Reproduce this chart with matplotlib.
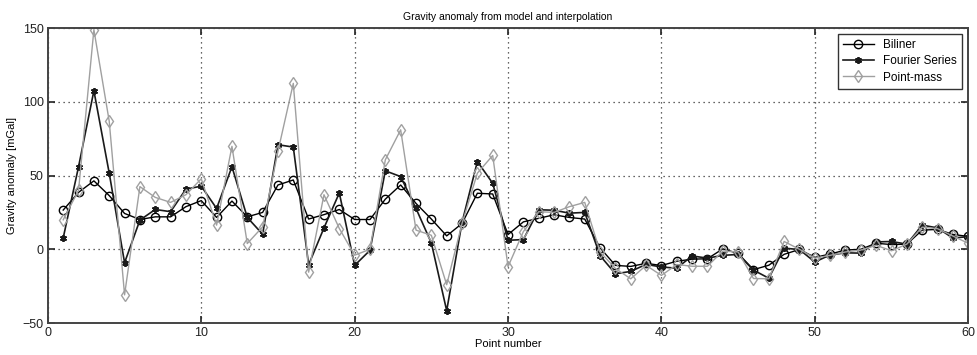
import matplotlib.pyplot as plt
import numpy as np

plt.rcParams['font.family'] = ['Liberation Sans', 'DejaVu Sans']

points = np.arange(1, 61)

biliner = [26.6, 38.6, 46.4, 36.4, 24.3, 20.2, 22, 22, 28.9, 33,
           21.6, 32.7, 22, 25, 43.6, 47, 20.5, 23.5, 27, 20.2,
           20.2, 34, 43.6, 31.1, 20.5, 9.1, 17.5, 38, 37.5, 10,
           18.6, 21, 23.4, 21.6, 20.5, 1, -10.9, -11.6, -9.5, -11,
           -8.1, -6.7, -6.4, 0.3, -2.8, -13.8, -10.8, -3.4, -0.1, -5.5,
           -3.2, -0.5, 0, 4.1, 3.2, 3.5, 13, 13.5, 10.1, 8.7]

fourier = [7.7, 56, 107.5, 51.6, -9.1, 19.8, 27, 25.5, 40.8, 42.8,
           27.7, 56, 21.6, 10.2, 70.9, 69.3, -10.5, 14.5, 38.2, -10.9,
           -0.7, 53.2, 49.3, 27.7, 4.3, -41.6, 18.2, 59.5, 44.8, 6.1,
           6.6, 26.8, 26.5, 24.5, 25, -4.3, -16.6, -15, -10.2, -12,
           -12.8, -4.5, -6, -4.1, -3.5, -14.1, -19.6, 0.8, -0.2, -8.6,
           -3.8, -2.4, -2.6, 5, 5.3, 3.5, 16.4, 14.5, 7.6, 8.6]

point_mass = [20, 40, 148.9, 86.8, -30.9, 42.5, 35.2, 31.8, 37, 47.8,
              16.4, 69.8, 3.9, 15.2, 66.4, 112.5, -15.5, 37, 14.1, -4,
              0, 60.7, 81, 13, 9.5, -24, 17.5, 51.6, 63.6, -11.8,
              12, 25.5, 25, 28.9, 31.8, -1.8, -13, -20, -10.9, -17.7,
              -10.3, -11.5, -11.5, -1.2, -1.8, -19.8, -20, 5.3, 0, -6,
              -4.1, -1.8, -0.5, 2.7, -1, 3.5, 15, 14, 9, 4.1]

fig = plt.figure(figsize=(9.77, 3.55), dpi=100)
ax = fig.add_axes([0.049, 0.090, 0.942, 0.831])

ax.plot(points, biliner, color='black', lw=1.0, marker='o', ms=6,
        mfc='none', mec='black', mew=1.0, label='Biliner')
ax.plot(points, fourier, color='#1a1a1a', lw=1.2, marker=(6, 2, 0), ms=5,
        mec='#1a1a1a', mew=1.3, label='Fourier Series')
ax.plot(points, point_mass, color='#a0a0a0', lw=1.0, marker='d', ms=6,
        mfc='none', mec='#a0a0a0', mew=1.0, label='Point-mass')

ax.set_xlim(0, 60)
ax.set_ylim(-50, 150)
ax.set_xticks(np.arange(0, 61, 10))
ax.set_yticks(np.arange(-50, 151, 50))
ax.grid(True, linestyle=(0, (1, 3)), color='#333333', lw=0.9)
ax.tick_params(direction='in', length=5, width=1.2, top=True, right=True,
               labelsize=9, colors='#222222', pad=3)
for s in ax.spines.values():
    s.set_color('#444444')
    s.set_linewidth(1.4)

ax.set_title('Gravity anomaly from model and interpolation', fontsize=7.5, pad=6)
ax.set_xlabel('Point number', fontsize=8, labelpad=0)
ax.set_ylabel('Gravity anomaly [mGal]', fontsize=8, labelpad=4)

leg = ax.legend(loc='upper right', fontsize=8.5, frameon=True, fancybox=False,
                edgecolor='black', borderaxespad=0.5, handlelength=2.6,
                labelspacing=0.35, borderpad=0.45)
leg.get_frame().set_linewidth(1.0)

fig.savefig('out.png', dpi=100)
